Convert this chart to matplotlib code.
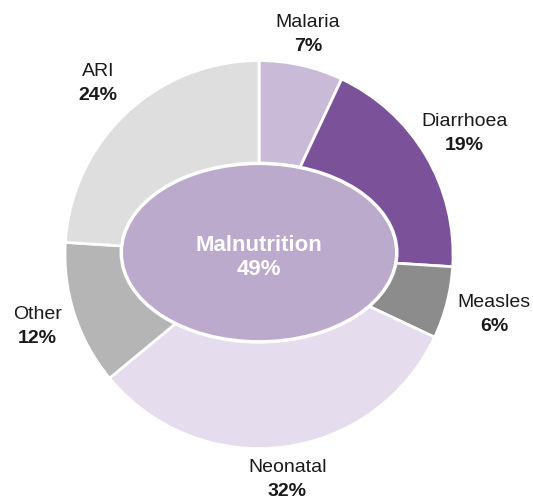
import numpy as np
import matplotlib
matplotlib.use("Agg")
import matplotlib.pyplot as plt
from matplotlib.patches import Ellipse

plt.rcParams['font.family'] = ['Liberation Sans', 'DejaVu Sans']

causes = ['Malaria', 'Diarrhoea', 'Measles', 'Neonatal', 'Other', 'ARI']
shares = [7, 19, 6, 32, 12, 24]
colors = ['#c9bbd8', '#7b5299', '#8c8c8c', '#e5dded', '#b5b5b5', '#dedede']
centre_label = 'Malnutrition'
centre_share = 49

# how far out each label sits (in pie radii)
label_dist = [1.16, 1.23, 1.25, 1.17, 1.20, 1.21]

fig = plt.figure(figsize=(5.33, 5.0), dpi=100)
ax = fig.add_axes([0, 0, 1, 1])

wedges, _ = ax.pie(shares, colors=colors, startangle=90, counterclock=False,
                   radius=1.0, wedgeprops=dict(edgecolor='white', linewidth=2))

# labels along the middle angle of each wedge
for w, name, val, d in zip(wedges, causes, shares, label_dist):
    ang = np.deg2rad((w.theta1 + w.theta2) / 2)
    x, y = d * np.cos(ang), d * np.sin(ang)
    ax.text(x, y + 0.062, name, ha='center', va='center', fontsize=14, color='#1a1a1a')
    ax.text(x, y - 0.062, f'{val}%', ha='center', va='center', fontsize=14,
            fontweight='bold', color='#1a1a1a')

ell = Ellipse((0, 0.01), 1.42, 0.92, facecolor='#bcaacd', edgecolor='white', linewidth=2.5, zorder=3)
ax.add_patch(ell)
ax.text(0, 0.049, centre_label, ha='center', va='center', fontsize=16,
        fontweight='bold', color='white', zorder=4)
ax.text(0, -0.077, f'{centre_share}%', ha='center', va='center', fontsize=16,
        fontweight='bold', color='white', zorder=4)

ax.set_xlim(-1.335, 1.412)
ax.set_ylim(-1.265, 1.312)
ax.set_aspect('equal')
ax.axis('off')

fig.savefig('out.png', dpi=100)
